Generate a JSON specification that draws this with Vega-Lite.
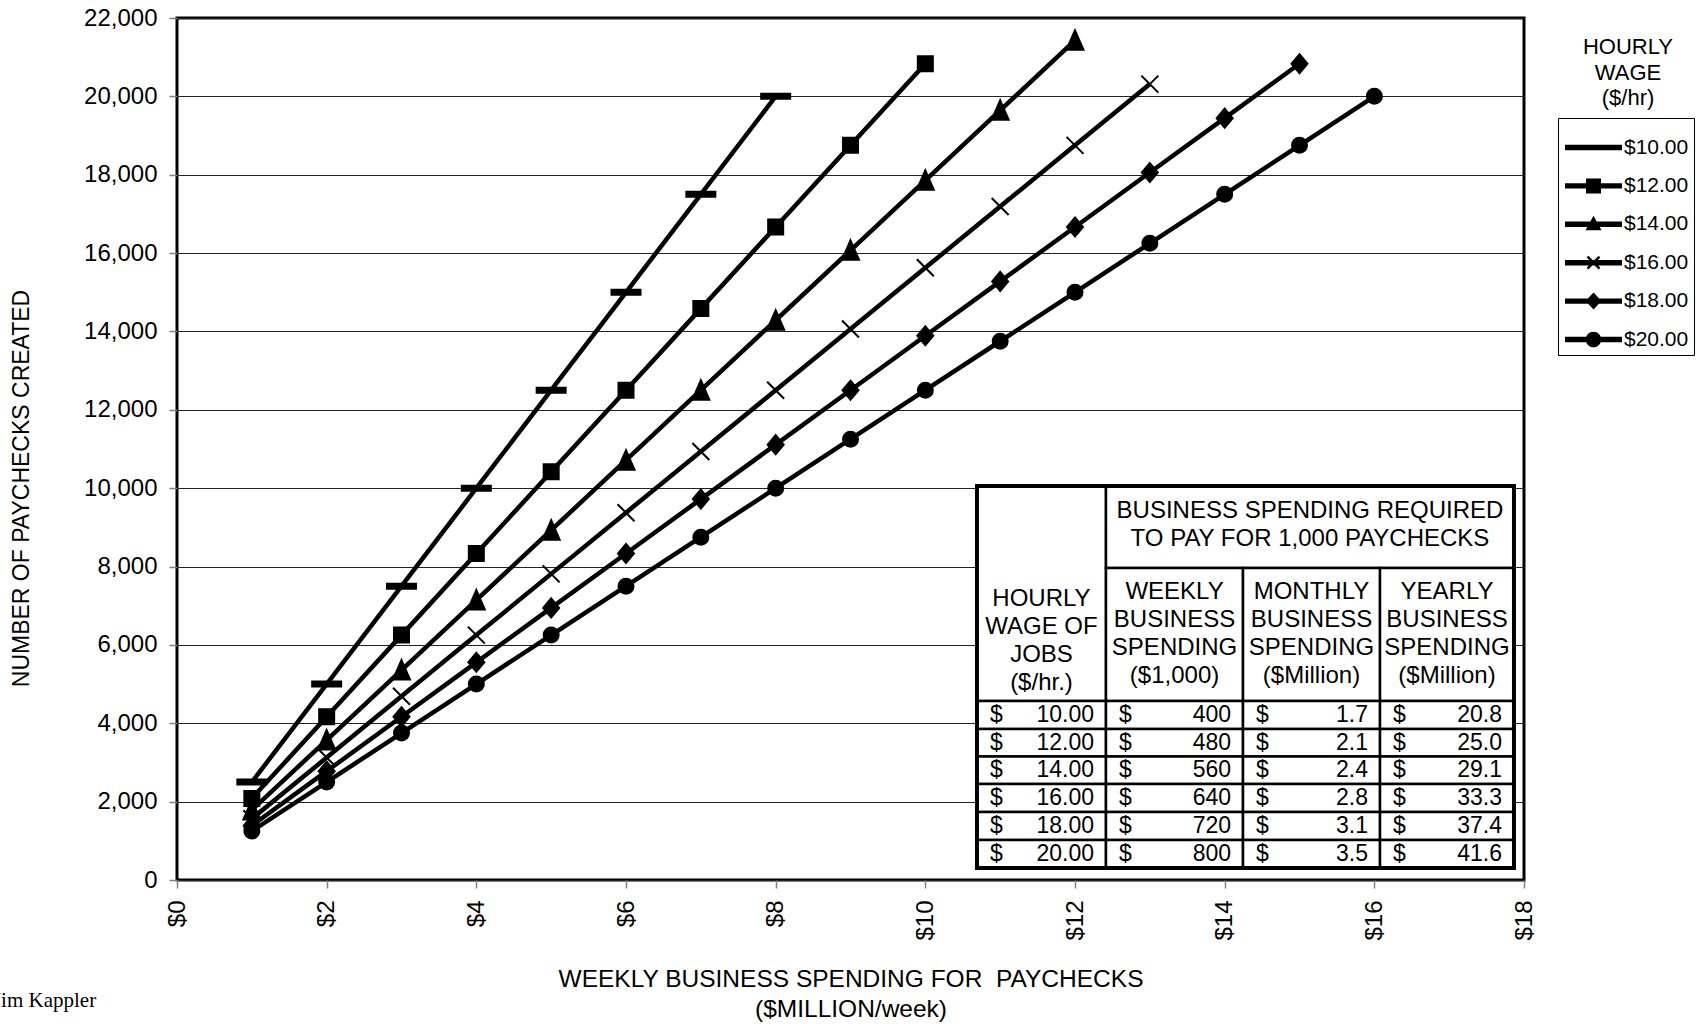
{
  "$schema": "https://vega.github.io/schema/vega-lite/v6.json",
  "width": 1347,
  "height": 862,
  "autosize": {"type": "none"},
  "padding": {"left": 177, "top": 18, "right": 178, "bottom": 144},
  "background": "white",
  "title": {
    "text": ["HOURLY", "WAGE", "($/hr)"],
    "anchor": "end",
    "align": "center",
    "baseline": "middle",
    "dx": 104,
    "dy": 114,
    "offset": 0,
    "lineHeight": 25.5,
    "fontSize": 22,
    "font": "Liberation Sans",
    "fontWeight": "normal",
    "color": "black",
    "frame": "group"
  },
  "config": {
    "font": "Liberation Sans",
    "view": {"stroke": "black", "strokeWidth": 3},
    "axis": {
      "labelFont": "Liberation Sans",
      "titleFont": "Liberation Sans",
      "labelColor": "black",
      "titleColor": "black",
      "titleFontWeight": "normal"
    }
  },
  "datasets": {
    "series": [
      {"w": "$10.00", "s": 1, "n": 2500}, {"w": "$10.00", "s": 2, "n": 5000}, {"w": "$10.00", "s": 3, "n": 7500}, {"w": "$10.00", "s": 4, "n": 10000},
      {"w": "$10.00", "s": 5, "n": 12500}, {"w": "$10.00", "s": 6, "n": 15000}, {"w": "$10.00", "s": 7, "n": 17500}, {"w": "$10.00", "s": 8, "n": 20000},
      {"w": "$12.00", "s": 1, "n": 2083}, {"w": "$12.00", "s": 2, "n": 4167}, {"w": "$12.00", "s": 3, "n": 6250}, {"w": "$12.00", "s": 4, "n": 8333},
      {"w": "$12.00", "s": 5, "n": 10417}, {"w": "$12.00", "s": 6, "n": 12500}, {"w": "$12.00", "s": 7, "n": 14583}, {"w": "$12.00", "s": 8, "n": 16667},
      {"w": "$12.00", "s": 9, "n": 18750}, {"w": "$12.00", "s": 10, "n": 20833},
      {"w": "$14.00", "s": 1, "n": 1786}, {"w": "$14.00", "s": 2, "n": 3571}, {"w": "$14.00", "s": 3, "n": 5357}, {"w": "$14.00", "s": 4, "n": 7143},
      {"w": "$14.00", "s": 5, "n": 8929}, {"w": "$14.00", "s": 6, "n": 10714}, {"w": "$14.00", "s": 7, "n": 12500}, {"w": "$14.00", "s": 8, "n": 14286},
      {"w": "$14.00", "s": 9, "n": 16071}, {"w": "$14.00", "s": 10, "n": 17857}, {"w": "$14.00", "s": 11, "n": 19643}, {"w": "$14.00", "s": 12, "n": 21429},
      {"w": "$16.00", "s": 1, "n": 1563}, {"w": "$16.00", "s": 2, "n": 3125}, {"w": "$16.00", "s": 3, "n": 4688}, {"w": "$16.00", "s": 4, "n": 6250},
      {"w": "$16.00", "s": 5, "n": 7813}, {"w": "$16.00", "s": 6, "n": 9375}, {"w": "$16.00", "s": 7, "n": 10938}, {"w": "$16.00", "s": 8, "n": 12500},
      {"w": "$16.00", "s": 9, "n": 14063}, {"w": "$16.00", "s": 10, "n": 15625}, {"w": "$16.00", "s": 11, "n": 17188}, {"w": "$16.00", "s": 12, "n": 18750},
      {"w": "$16.00", "s": 13, "n": 20313},
      {"w": "$18.00", "s": 1, "n": 1389}, {"w": "$18.00", "s": 2, "n": 2778}, {"w": "$18.00", "s": 3, "n": 4167}, {"w": "$18.00", "s": 4, "n": 5556},
      {"w": "$18.00", "s": 5, "n": 6944}, {"w": "$18.00", "s": 6, "n": 8333}, {"w": "$18.00", "s": 7, "n": 9722}, {"w": "$18.00", "s": 8, "n": 11111},
      {"w": "$18.00", "s": 9, "n": 12500}, {"w": "$18.00", "s": 10, "n": 13889}, {"w": "$18.00", "s": 11, "n": 15278}, {"w": "$18.00", "s": 12, "n": 16667},
      {"w": "$18.00", "s": 13, "n": 18056}, {"w": "$18.00", "s": 14, "n": 19444}, {"w": "$18.00", "s": 15, "n": 20833},
      {"w": "$20.00", "s": 1, "n": 1250}, {"w": "$20.00", "s": 2, "n": 2500}, {"w": "$20.00", "s": 3, "n": 3750}, {"w": "$20.00", "s": 4, "n": 5000},
      {"w": "$20.00", "s": 5, "n": 6250}, {"w": "$20.00", "s": 6, "n": 7500}, {"w": "$20.00", "s": 7, "n": 8750}, {"w": "$20.00", "s": 8, "n": 10000},
      {"w": "$20.00", "s": 9, "n": 11250}, {"w": "$20.00", "s": 10, "n": 12500}, {"w": "$20.00", "s": 11, "n": 13750}, {"w": "$20.00", "s": 12, "n": 15000},
      {"w": "$20.00", "s": 13, "n": 16250}, {"w": "$20.00", "s": 14, "n": 17500}, {"w": "$20.00", "s": 15, "n": 18750}, {"w": "$20.00", "s": 16, "n": 20000}
    ],
    "cells": [
      {"k": "h", "x1": 10.690, "x2": 12.414, "y1": 4568, "y2": 10056, "xc": 11.552, "yc": 7172, "v": "HOURLY\nWAGE OF\nJOBS\n($/hr.)"},
      {"k": "h", "x1": 12.414, "x2": 17.866, "y1": 7963, "y2": 10056, "xc": 15.140, "yc": 9418, "v": "BUSINESS SPENDING REQUIRED\nTO PAY FOR 1,000 PAYCHECKS"},
      {"k": "h", "x1": 12.414, "x2": 14.245, "y1": 4568, "y2": 7963, "xc": 13.330, "yc": 7350, "v": "WEEKLY\nBUSINESS\nSPENDING\n($1,000)"},
      {"k": "h", "x1": 14.245, "x2": 16.076, "y1": 4568, "y2": 7963, "xc": 15.160, "yc": 7350, "v": "MONTHLY\nBUSINESS\nSPENDING\n($Million)"},
      {"k": "h", "x1": 16.076, "x2": 17.866, "y1": 4568, "y2": 7963, "xc": 16.971, "yc": 7350, "v": "YEARLY\nBUSINESS\nSPENDING\n($Million)"},
      {"k": "d", "x1": 10.690, "x2": 12.414, "y1": 3854, "y2": 4568, "yc": 4211, "v": "10.00"},
      {"k": "d", "x1": 10.690, "x2": 12.414, "y1": 3152, "y2": 3854, "yc": 3503, "v": "12.00"},
      {"k": "d", "x1": 10.690, "x2": 12.414, "y1": 2450, "y2": 3152, "yc": 2801, "v": "14.00"},
      {"k": "d", "x1": 10.690, "x2": 12.414, "y1": 1736, "y2": 2450, "yc": 2093, "v": "16.00"},
      {"k": "d", "x1": 10.690, "x2": 12.414, "y1": 1021, "y2": 1736, "yc": 1378, "v": "18.00"},
      {"k": "d", "x1": 10.690, "x2": 12.414, "y1": 306, "y2": 1021, "yc": 664, "v": "20.00"},
      {"k": "d", "x1": 12.414, "x2": 14.245, "y1": 3854, "y2": 4568, "yc": 4211, "v": "400"},
      {"k": "d", "x1": 12.414, "x2": 14.245, "y1": 3152, "y2": 3854, "yc": 3503, "v": "480"},
      {"k": "d", "x1": 12.414, "x2": 14.245, "y1": 2450, "y2": 3152, "yc": 2801, "v": "560"},
      {"k": "d", "x1": 12.414, "x2": 14.245, "y1": 1736, "y2": 2450, "yc": 2093, "v": "640"},
      {"k": "d", "x1": 12.414, "x2": 14.245, "y1": 1021, "y2": 1736, "yc": 1378, "v": "720"},
      {"k": "d", "x1": 12.414, "x2": 14.245, "y1": 306, "y2": 1021, "yc": 664, "v": "800"},
      {"k": "d", "x1": 14.245, "x2": 16.076, "y1": 3854, "y2": 4568, "yc": 4211, "v": "1.7"},
      {"k": "d", "x1": 14.245, "x2": 16.076, "y1": 3152, "y2": 3854, "yc": 3503, "v": "2.1"},
      {"k": "d", "x1": 14.245, "x2": 16.076, "y1": 2450, "y2": 3152, "yc": 2801, "v": "2.4"},
      {"k": "d", "x1": 14.245, "x2": 16.076, "y1": 1736, "y2": 2450, "yc": 2093, "v": "2.8"},
      {"k": "d", "x1": 14.245, "x2": 16.076, "y1": 1021, "y2": 1736, "yc": 1378, "v": "3.1"},
      {"k": "d", "x1": 14.245, "x2": 16.076, "y1": 306, "y2": 1021, "yc": 664, "v": "3.5"},
      {"k": "d", "x1": 16.076, "x2": 17.866, "y1": 3854, "y2": 4568, "yc": 4211, "v": "20.8"},
      {"k": "d", "x1": 16.076, "x2": 17.866, "y1": 3152, "y2": 3854, "yc": 3503, "v": "25.0"},
      {"k": "d", "x1": 16.076, "x2": 17.866, "y1": 2450, "y2": 3152, "yc": 2801, "v": "29.1"},
      {"k": "d", "x1": 16.076, "x2": 17.866, "y1": 1736, "y2": 2450, "yc": 2093, "v": "33.3"},
      {"k": "d", "x1": 16.076, "x2": 17.866, "y1": 1021, "y2": 1736, "yc": 1378, "v": "37.4"},
      {"k": "d", "x1": 16.076, "x2": 17.866, "y1": 306, "y2": 1021, "yc": 664, "v": "41.6"}
    ]
  },
  "resolve": {"scale": {"shape": "independent"}, "legend": {"shape": "independent"}},
  "layer": [
    {
      "data": {"name": "series"},
      "mark": {"type": "line", "stroke": "black", "strokeWidth": 4.5},
      "encoding": {
        "x": {
          "field": "s", "type": "quantitative",
          "scale": {"domain": [0, 18], "nice": false, "zero": true},
          "axis": {
            "values": [0, 2, 4, 6, 8, 10, 12, 14, 16, 18],
            "labelExpr": "'$' + datum.value",
            "labelAngle": -90,
            "labelFontSize": 24,
            "labelPadding": 12,
            "tickSize": 8,
            "tickColor": "#808080",
            "tickWidth": 1.5,
            "domain": false,
            "grid": false,
            "title": ["WEEKLY BUSINESS SPENDING FOR\u00a0 PAYCHECKS", "($MILLION/week)"],
            "titleFontSize": 24.5,
            "titleLineHeight": 30,
            "titleBaseline": "middle",
            "titleAlign": "center",
            "titleX": 673.5,
            "titleY": 99
          }
        },
        "y": {
          "field": "n", "type": "quantitative",
          "scale": {"domain": [0, 22000], "nice": false},
          "axis": {
            "values": [0, 2000, 4000, 6000, 8000, 10000, 12000, 14000, 16000, 18000, 20000, 22000],
            "labelExpr": "format(datum.value, ',')",
            "labelFontSize": 24,
            "labelPadding": 12,
            "tickSize": 8,
            "tickColor": "#808080",
            "tickWidth": 1.5,
            "domain": false,
            "grid": true,
            "gridColor": "#222222",
            "gridWidth": 1,
            "title": "NUMBER OF PAYCHECKS CREATED",
            "titleFontSize": 23,
            "titleAngle": 270,
            "titleAlign": "center",
            "titleBaseline": "middle",
            "titleX": -156,
            "titleY": 470
          }
        },
        "detail": {"field": "w", "type": "nominal"}
      }
    },
    {
      "data": {"name": "series"},
      "mark": {"type": "point", "filled": true, "fill": "black", "stroke": "black", "strokeWidth": 2, "size": 400, "opacity": 1},
      "encoding": {
        "x": {"field": "s", "type": "quantitative"},
        "y": {"field": "n", "type": "quantitative"},
        "shape": {
          "field": "w", "type": "nominal",
          "scale": {
            "domain": ["$10.00", "$12.00", "$14.00", "$16.00", "$18.00", "$20.00"],
            "range": [
              "M-1.45,-0.25H1.45V0.25H-1.45Z",
              "M-0.75,-0.75H0.75V0.75H-0.75Z",
              "M0,-1L0.85,0.95H-0.85Z",
              "M-0.85,-0.85L0.85,0.85M-0.85,0.85L0.85,-0.85",
              "M0,-0.95L0.8,0L0,0.95L-0.8,0Z",
              "M-0.75,0A0.75,0.75,0,1,0,0.75,0A0.75,0.75,0,1,0,-0.75,0Z"
            ]
          },
          "legend": null
        }
      }
    },
    {
      "data": {"name": "series"},
      "transform": [{"filter": "datum.s < 0"}],
      "mark": {"type": "point", "filled": true, "fill": "black", "strokeWidth": 0, "size": 400, "opacity": 1},
      "encoding": {
        "shape": {
          "field": "w", "type": "nominal",
          "scale": {
            "domain": ["$10.00", "$12.00", "$14.00", "$16.00", "$18.00", "$20.00"],
            "range": [
              "M-2.85,-0.27H2.85V0.27H-2.85Z",
              "M-2.85,-0.27H2.85V0.27H-2.85ZM-0.75,-0.75H0.75V0.75H-0.75Z",
              "M-2.85,-0.27H2.85V0.27H-2.85ZM0,-0.85L0.8,0.6H-0.8Z",
              "M-2.85,-0.27H2.85V0.27H-2.85ZM-0.515,-0.685L0.685,0.515L0.515,0.685L-0.685,-0.515ZM-0.685,0.515L0.515,-0.685L0.685,-0.515L-0.515,0.685Z",
              "M-2.85,-0.27H2.85V0.27H-2.85ZM0,-0.85L0.8,0L0,0.85L-0.8,0Z",
              "M-2.85,-0.27H2.85V0.27H-2.85ZM-0.78,0A0.78,0.78,0,1,1,0.78,0A0.78,0.78,0,1,1,-0.78,0Z"
            ]
          },
          "legend": {
            "orient": "none",
            "legendX": 1381,
            "legendY": 100,
            "title": " ",
            "titleFontSize": 12,
            "titlePadding": 2,
            "padding": 5,
            "strokeColor": "black",
            "fillColor": "white",
            "labelFontSize": 21,
            "labelFont": "Liberation Sans",
            "labelColor": "black",
            "symbolSize": 400,
            "symbolOffset": 20,
            "labelOffset": 20,
            "rowPadding": 16.4,
            "symbolFillColor": "black",
            "symbolStrokeWidth": 0,
            "symbolOpacity": 1
          }
        }
      }
    },
    {
      "data": {"name": "cells"},
      "mark": {"type": "rect", "fill": "white", "stroke": "black", "strokeWidth": 2.5},
      "encoding": {
        "x": {"field": "x1", "type": "quantitative"},
        "x2": {"field": "x2"},
        "y": {"field": "y1", "type": "quantitative"},
        "y2": {"field": "y2"}
      }
    },
    {
      "data": {"values": [{"x1": 10.690, "x2": 17.866, "y1": 306, "y2": 10056}]},
      "mark": {"type": "rect", "filled": false, "stroke": "black", "strokeWidth": 4},
      "encoding": {
        "x": {"field": "x1", "type": "quantitative"},
        "x2": {"field": "x2"},
        "y": {"field": "y1", "type": "quantitative"},
        "y2": {"field": "y2"}
      }
    },
    {
      "data": {"values": [{"fx": -2.46, "fy": -3241, "t": "Jim Kappler"}]},
      "mark": {"type": "text", "align": "left", "baseline": "alphabetic", "font": "Liberation Serif", "fontSize": 21, "color": "black", "clip": false},
      "encoding": {
        "x": {"field": "fx", "type": "quantitative"},
        "y": {"field": "fy", "type": "quantitative"},
        "text": {"field": "t", "type": "nominal"}
      }
    },
    {
      "data": {"name": "cells"},
      "transform": [{"filter": "datum.k === 'h'"}],
      "mark": {"type": "text", "align": "center", "baseline": "middle", "lineBreak": "\n", "fontSize": 24, "lineHeight": 28, "font": "Liberation Sans", "color": "black"},
      "encoding": {
        "x": {"field": "xc", "type": "quantitative"},
        "y": {"field": "yc", "type": "quantitative"},
        "text": {"field": "v", "type": "nominal"}
      }
    },
    {
      "data": {"name": "cells"},
      "transform": [{"filter": "datum.k === 'd'"}],
      "mark": {"type": "text", "align": "left", "baseline": "middle", "dx": 13, "fontSize": 23, "font": "Liberation Sans", "color": "black"},
      "encoding": {
        "x": {"field": "x1", "type": "quantitative"},
        "y": {"field": "yc", "type": "quantitative"},
        "text": {"value": "$"}
      }
    },
    {
      "data": {"name": "cells"},
      "transform": [{"filter": "datum.k === 'd'"}],
      "mark": {"type": "text", "align": "right", "baseline": "middle", "dx": -12, "fontSize": 23, "font": "Liberation Sans", "color": "black"},
      "encoding": {
        "x": {"field": "x2", "type": "quantitative"},
        "y": {"field": "yc", "type": "quantitative"},
        "text": {"field": "v", "type": "nominal"}
      }
    }
  ]
}
